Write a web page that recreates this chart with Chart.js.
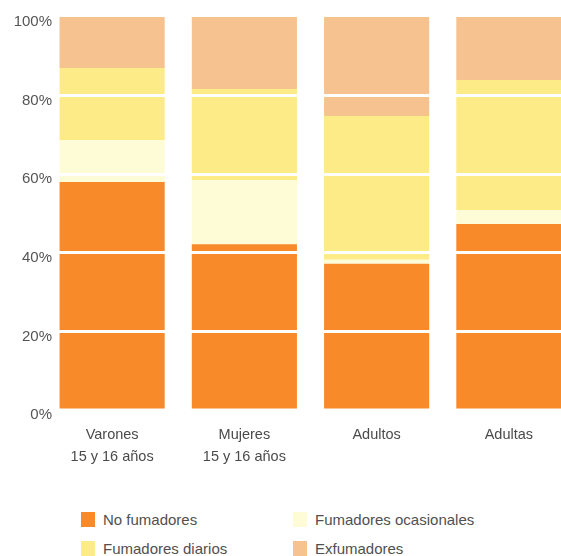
<!DOCTYPE html>
<html>
<head>
<meta charset="utf-8">
<script src="https://cdn.jsdelivr.net/npm/chart.js@4/dist/chart.umd.min.js"></script>
<style>
  body { margin: 0; width: 561px; height: 556px; overflow: hidden; background: #fff; position: relative; font-family: "Liberation Sans", Arial, sans-serif; }
  #wrap { position: absolute; left: 0; top: 0; width: 575px; height: 480px; }
  .leg { position: absolute; font-size: 15px; color: #505050; white-space: nowrap; line-height: 15px; }
  .leg span { position: absolute; left: 0; top: 0; width: 14px; height: 15px; }
  .leg b { font-weight: normal; position: absolute; left: 22px; top: 0; }
</style>
</head>
<body>
<div id="wrap"><canvas id="chart"></canvas></div>
<div id="legend"></div>
<script>
// categorias y valores (%)
const categories = [['Varones', '15 y 16 años'], ['Mujeres', '15 y 16 años'], 'Adultos', 'Adultas'];
const seriesNames = ['No fumadores', 'Fumadores ocasionales', 'Fumadores diarios', 'Exfumadores'];
const noFumadores = [58, 42.2, 37.2, 47.3];
const ocasionales = [10.7, 16.3, 1.0, 3.6];
const diarios = [18.3, 23.2, 36.6, 33.1];
const exfumadores = [13, 18.3, 25.2, 16];
const yTicks = [0, 20, 40, 60, 80, 100];

const colors = ['#f88a2a', '#fefcd6', '#fdeb88', '#f6c28f'];
const values = [noFumadores, ocasionales, diarios, exfumadores];

// deja que las etiquetas del eje y lleguen hasta x=52 sin recortarse
const labelEdge = {
  id: 'labelEdge',
  afterLayout(chart) {
    chart.scales.y.right = 52;
  }
};

const ctx = document.getElementById('chart');
const chart = new Chart(ctx, {
  type: 'bar',
  plugins: [labelEdge],
  data: {
    labels: categories,
    datasets: seriesNames.map((name, i) => ({
      label: name,
      data: values[i],
      backgroundColor: colors[i],
      borderWidth: 0,
      categoryPercentage: 1,
      barPercentage: 0.795
    }))
  },
  options: {
    responsive: true,
    maintainAspectRatio: false,
    animation: false,
    layout: { padding: { top: 17, left: 0, right: 0, bottom: 0 } },
    plugins: {
      legend: { display: false },
      tooltip: { enabled: false }
    },
    scales: {
      x: {
        stacked: true,
        grid: { display: false, drawTicks: false },
        border: { display: false },
        ticks: {
          padding: 14,
          color: '#4a4a4a',
          font: { family: '"Liberation Sans", Arial, sans-serif', size: 14.5, lineHeight: 1.5 }
        },
        afterFit: (scale) => { scale.height = 70; }
      },
      y: {
        stacked: true,
        min: 0,
        max: 100,
        afterBuildTicks: (scale) => { scale.ticks = yTicks.map(v => ({ value: v })); },
        grid: {
          z: 1,
          drawTicks: false,
          lineWidth: 3,
          color: (c) => (c.tick && (c.tick.value === 0 || c.tick.value === 100)) ? 'rgba(0,0,0,0)' : '#ffffff'
        },
        border: { display: false },
        ticks: {
          padding: 0,
          labelOffset: 5,
          color: '#555555',
          font: { family: '"Liberation Sans", Arial, sans-serif', size: 15 },
          callback: (v) => v + '%'
        },
        afterFit: (scale) => { scale.width = 46; }
      }
    }
  }
});

// leyenda en dos columnas
const legendPos = [[81, 512], [293, 512], [81, 541], [293, 541]];
const legendEl = document.getElementById('legend');
seriesNames.forEach((name, i) => {
  const d = document.createElement('div');
  d.className = 'leg';
  d.style.left = legendPos[i][0] + 'px';
  d.style.top = legendPos[i][1] + 'px';
  d.innerHTML = '<span style="background:' + colors[i] + '"></span><b>' + name + '</b>';
  legendEl.appendChild(d);
});
</script>
</body>
</html>
